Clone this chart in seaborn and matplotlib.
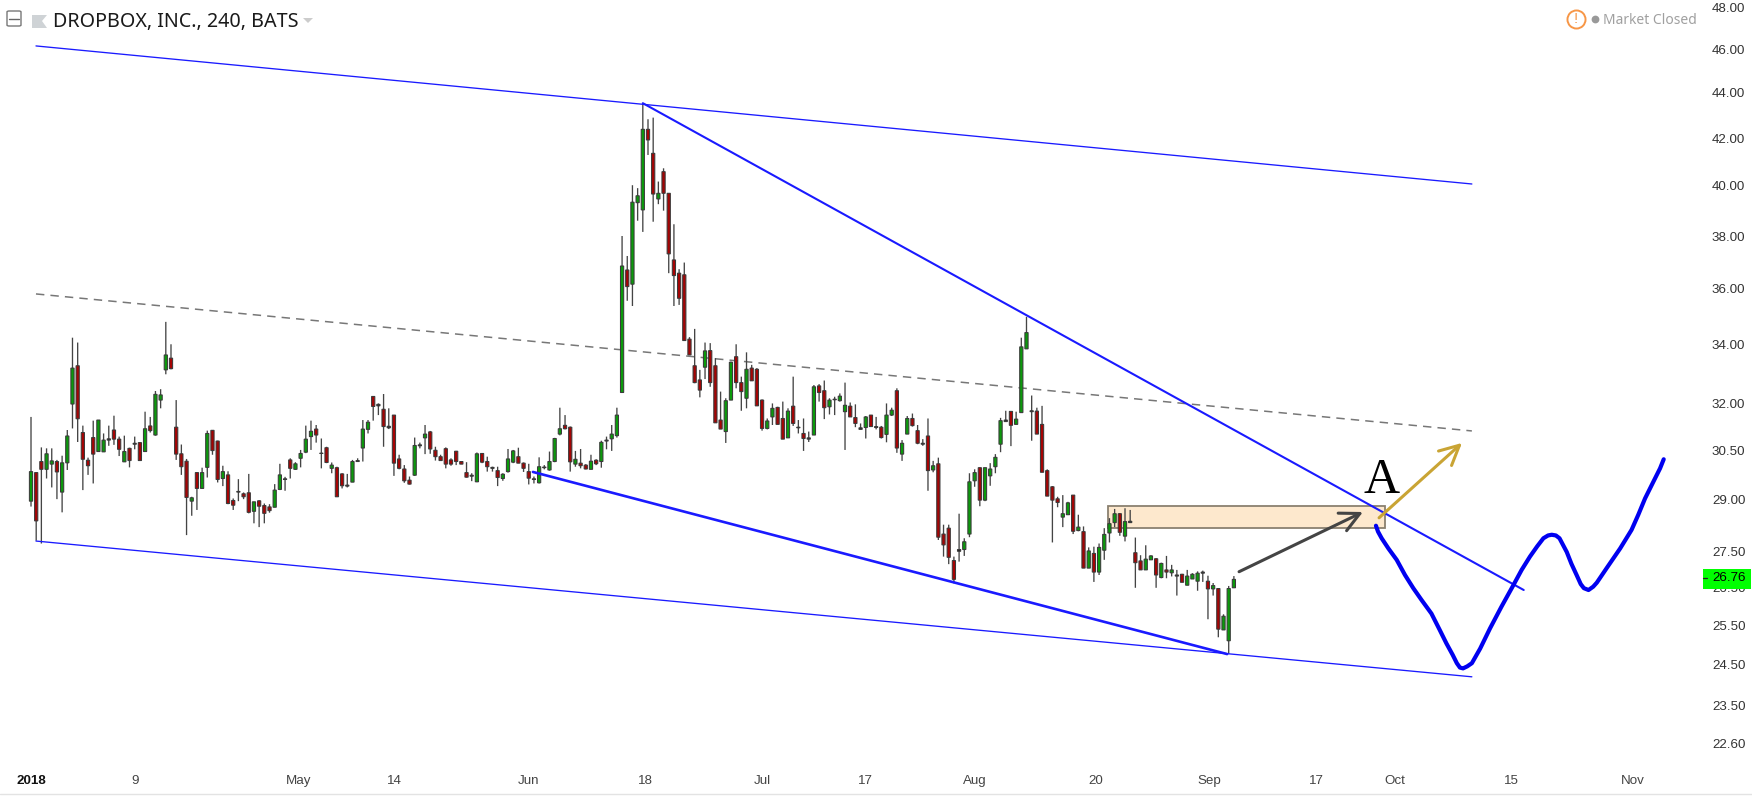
import pandas as pd
import seaborn as sns
import matplotlib.pyplot as plt
from matplotlib.patches import Rectangle, FancyBboxPatch, Polygon
from matplotlib.lines import Line2D
from matplotlib.ticker import FixedLocator, NullLocator, FixedFormatter

# candle direction per 4h bar, G up, R down, k doji
directions = ("GRRGGRGGGR" "RRRGGkRRGR" "kRGRGGGRRR" "RGRGGRRGRR" "kRRGRRRGGk"
              "RGGGGRkRGR" "RkGkGGRkRk" "RRRRGkGRRR" "RRRRRkGRRk" "RGGGRRRkGk"
              "GGGRRGRRGR" "GkGG"
              "GRGGGRRGRR" "RRRRRRGRRR" "GGRRGRRRGG" "RRGRkRk"
              "GRRGkGGRR" "kGRkRGGRGG" "RRkRGRRRRk" "GGGRGGGGkR" "GGGkRRRRR"
              "GGRGRGRGGGG" "RGkRRGGRGR" "GkRGGGkRGRGGG")

highs = [31.57, 29.82, 30.60, 30.57, 30.57, 30.21, 30.34, 31.15, 34.24, 34.07,
         31.29, 30.28, 31.45, 31.47, 31.04, 31.29, 31.61, 30.94, 30.97, 30.59,
         30.94, 30.76, 31.74, 31.57, 32.42, 32.48, 34.80, 34.01, 32.12, 30.69,
         30.24, 29.09, 29.83, 29.97, 31.13, 31.15, 30.81, 30.03, 29.86, 29.04,
         29.62, 29.22, 29.78, 28.94, 28.99, 28.89, 28.87, 29.47, 30.09, 29.69,
         30.26, 30.14, 30.52, 31.29, 31.45, 31.31, 30.88, 30.62, 30.13, 30.00,
         29.80, 29.78, 30.21, 30.26, 31.47, 31.47, 32.25, 32.01, 32.32, 31.85,
         31.63, 30.37, 30.05, 29.70, 30.91, 30.75, 31.31, 31.12, 30.62, 30.37,
         30.60, 30.26, 30.49, 30.16, 30.14, 29.80, 30.44, 30.42, 30.31, 30.00,
         30.00, 29.80, 30.55, 30.52, 30.59, 30.13, 30.09, 29.70, 30.29, 30.05,
         30.47, 30.90, 31.87, 31.63, 31.26, 30.49, 30.55, 30.08, 30.37, 30.23,
         30.81, 30.94, 31.31, 31.87,
         38.00, 37.23, 40.03, 39.91, 43.53, 42.83, 42.90, 40.18, 40.73, 39.70,
         38.46, 36.73, 36.98, 34.26, 34.55, 33.13, 34.07, 34.05, 33.53, 32.40,
         32.18, 33.41, 34.01, 32.90, 33.73, 33.30, 33.19, 32.14, 31.52, 32.01,
         31.90, 32.07, 31.85, 32.90, 31.47, 31.52, 31.10,
         32.62, 32.65, 32.77, 32.18, 32.23, 32.34, 32.70, 32.04, 31.98,
         31.36, 31.60, 31.63, 31.57, 31.28, 32.01, 31.87, 32.51, 30.83, 31.60,
         31.68, 31.31, 30.86, 31.52, 30.18, 30.28, 28.27, 28.27, 27.36, 28.59,
         27.88, 29.80, 29.92, 29.98, 29.97, 30.11, 30.39, 31.54, 31.77, 31.76,
         31.74, 34.24, 34.98, 32.27, 31.87, 31.93, 29.92, 29.41, 29.09,
         29.14, 28.94, 29.14, 28.56, 28.22, 27.62, 27.64, 27.73, 28.17, 28.46, 28.73,
         28.61, 28.75, 28.70, 27.90, 27.40, 27.68, 27.40, 27.32, 27.19, 27.38,
         27.13, 26.99, 26.88, 26.99, 26.90, 26.95, 26.97, 26.83, 26.63, 26.49, 25.79, 26.55, 26.82]

body_tops = [29.85, 29.82, 30.16, 30.40, 30.18, 30.16, 30.12, 30.96, 33.19, 33.27,
             31.07, 30.20, 30.91, 31.47, 30.83, 30.87, 31.15, 30.86, 30.47, 30.57,
             30.73, 30.75, 31.19, 31.28, 32.31, 32.29, 33.64, 33.53, 31.24, 30.40,
             30.17, 29.06, 29.82, 29.82, 31.04, 31.14, 30.80, 29.85, 29.75, 28.98,
             29.25, 29.18, 29.21, 28.94, 28.97, 28.83, 28.79, 29.29, 29.75, 29.63,
             30.21, 30.09, 30.41, 30.86, 31.11, 31.18, 30.42, 30.59, 30.05, 29.97,
             29.78, 29.44, 30.16, 30.19, 31.18, 31.40, 32.24, 31.98, 31.82, 31.27,
             31.63, 30.24, 29.93, 29.59, 30.66, 30.68, 31.02, 31.09, 30.51, 30.31,
             30.56, 30.21, 30.48, 30.16, 29.82, 29.74, 30.40, 30.41, 30.16, 29.98,
             29.88, 29.77, 30.24, 30.49, 30.31, 30.11, 29.85, 29.63, 30.00, 29.99,
             30.16, 30.88, 31.19, 31.30, 31.24, 30.23, 30.11, 30.05, 30.17, 30.20,
             30.76, 30.83, 31.02, 31.63,
             36.85, 36.70, 39.34, 39.60, 42.39, 42.39, 41.36, 39.70, 40.59, 39.70,
             37.08, 36.58, 36.52, 34.19, 33.27, 32.79, 33.78, 33.79, 33.27, 31.47,
             32.10, 33.39, 33.58, 32.70, 33.15, 33.19, 33.15, 32.12, 31.44, 31.85,
             31.88, 31.52, 31.76, 31.92, 31.24, 31.04, 30.90,
             32.56, 32.59, 32.43, 32.12, 32.15, 32.25, 31.95, 31.92, 31.55,
             31.22, 31.57, 31.63, 31.26, 31.24, 31.63, 31.79, 32.43, 30.73, 31.52,
             31.52, 31.13, 30.73, 30.96, 30.03, 30.09, 28.00, 28.17, 27.25, 27.56,
             27.78, 29.54, 29.82, 29.97, 29.97, 29.93, 30.29, 31.45, 31.47, 31.75,
             31.50, 33.92, 34.42, 31.77, 31.76, 31.33, 29.88, 29.39, 29.03,
             28.59, 28.91, 29.14, 28.20, 28.07, 27.52, 27.45, 27.62, 27.99, 28.30, 28.59,
             28.59, 28.36, 28.37, 27.47, 27.24, 27.29, 27.38, 27.30, 27.17, 26.99,
             26.99, 26.85, 26.87, 26.82, 26.87, 26.90, 26.93, 26.68, 26.56, 26.48, 25.74, 26.48, 26.73]

body_bottoms = [28.96, 28.38, 29.92, 29.92, 30.08, 29.84, 29.23, 30.12, 31.99, 31.51,
                30.23, 30.03, 30.39, 30.47, 30.46, 30.83, 30.86, 30.54, 30.15, 30.19,
                30.70, 30.19, 30.47, 31.13, 30.99, 32.12, 33.13, 33.17, 30.39, 30.00,
                29.07, 28.96, 29.34, 29.34, 29.98, 30.50, 29.61, 29.64, 28.89, 28.84,
                29.23, 29.09, 28.63, 28.66, 28.81, 28.60, 28.68, 28.78, 29.31, 29.61,
                29.95, 29.92, 30.26, 30.45, 30.94, 30.99, 30.41, 30.13, 29.95, 29.09,
                29.42, 29.41, 29.53, 30.16, 30.58, 31.17, 31.91, 31.93, 31.26, 31.22,
                30.11, 29.95, 29.57, 29.47, 29.74, 30.65, 30.90, 30.55, 30.31, 30.19,
                30.08, 30.08, 30.16, 30.08, 29.68, 29.71, 29.54, 30.14, 30.00, 29.95,
                29.67, 29.64, 29.85, 30.14, 30.11, 29.95, 29.65, 29.61, 29.51, 29.97,
                29.90, 30.16, 31.02, 31.19, 30.15, 30.08, 30.03, 29.93, 29.92, 30.09,
                30.16, 30.80, 30.87, 30.97,
                32.37, 36.08, 36.17, 39.32, 39.03, 41.93, 39.67, 39.47, 39.70, 37.31,
                36.49, 35.65, 34.14, 33.64, 32.70, 32.45, 33.22, 32.70, 31.38, 31.18,
                31.10, 32.12, 32.70, 32.40, 32.18, 32.76, 31.93, 31.20, 31.20, 31.57,
                31.33, 30.86, 30.90, 31.36, 31.22, 30.88, 30.86,
                30.99, 32.37, 31.87, 31.90, 32.13, 32.10, 31.74, 31.57, 31.36,
                31.17, 31.23, 31.26, 31.23, 30.91, 31.01, 31.63, 30.58, 30.39, 31.02,
                31.29, 30.73, 30.70, 29.88, 29.90, 27.91, 27.69, 27.34, 26.73, 27.51,
                27.56, 28.00, 29.57, 28.99, 28.99, 29.72, 30.00, 30.70, 31.42, 31.30,
                31.33, 31.71, 33.85, 31.74, 31.02, 29.83, 29.11, 28.99, 28.92,
                28.49, 28.56, 28.08, 28.10, 27.04, 27.04, 26.93, 26.93, 27.54, 28.03, 28.33,
                28.05, 27.94, 28.33, 27.19, 26.99, 26.99, 27.27, 26.85, 26.78, 26.93,
                26.91, 26.82, 26.65, 26.57, 26.74, 26.68, 26.90, 26.47, 26.47, 25.40, 25.38, 25.10, 26.50]

lows = [28.80, 27.81, 27.73, 29.64, 29.37, 29.02, 28.63, 29.90, 31.20, 30.77,
        29.29, 29.75, 29.49, 30.47, 30.46, 30.65, 30.68, 30.33, 30.15, 29.98,
        30.54, 30.18, 30.46, 31.07, 30.97, 31.85, 32.98, 33.15, 30.21, 29.75,
        27.97, 28.53, 28.70, 29.34, 29.67, 30.37, 29.52, 29.41, 28.87, 28.70,
        28.96, 29.02, 28.60, 28.31, 28.20, 28.31, 28.62, 28.78, 29.29, 29.27,
        29.64, 29.90, 29.98, 30.42, 30.52, 30.75, 29.95, 30.11, 29.80, 29.09,
        29.34, 29.37, 29.53, 30.16, 30.16, 31.04, 31.45, 31.63, 30.62, 31.18,
        29.72, 29.92, 29.51, 29.46, 29.72, 30.57, 30.39, 30.40, 30.19, 30.18,
        29.95, 30.03, 30.05, 30.08, 29.67, 29.56, 29.53, 30.11, 29.85, 29.85,
        29.41, 29.57, 29.82, 30.11, 30.11, 29.84, 29.46, 29.49, 29.49, 29.92,
        29.88, 30.14, 30.98, 31.17, 29.85, 30.00, 29.95, 29.92, 29.92, 30.05,
        29.97, 30.54, 30.49, 30.91,
        32.37, 35.56, 35.37, 38.60, 38.16, 41.29, 38.56, 39.26, 39.00, 36.58,
        35.37, 35.41, 34.14, 33.64, 32.68, 32.21, 32.82, 32.56, 31.38, 31.18,
        30.74, 32.12, 32.51, 31.77, 31.85, 32.76, 31.93, 31.13, 31.17, 31.31,
        31.33, 30.86, 30.90, 31.28, 31.04, 30.49, 30.77,
        30.99, 32.07, 31.50, 31.65, 31.63, 32.07, 30.52, 31.57, 31.24,
        31.17, 30.88, 31.26, 31.17, 30.88, 30.76, 31.60, 30.43, 30.18, 31.02,
        31.26, 30.70, 30.65, 29.27, 29.83, 27.83, 27.36, 27.15, 26.62, 27.22,
        27.38, 27.91, 29.39, 28.81, 28.96, 29.42, 29.80, 30.45, 31.42, 30.64,
        31.33, 31.71, 33.85, 30.81, 31.02, 29.83, 29.11, 27.76, 28.78,
        28.20, 28.56, 28.00, 28.08, 27.04, 27.04, 26.66, 26.85, 27.27, 27.76, 28.20,
        27.95, 27.79, 28.33, 26.50, 26.99, 26.99, 27.27, 26.50, 26.76, 26.76,
        26.81, 26.29, 26.65, 26.57, 26.74, 26.42, 26.66, 25.66, 26.29, 25.19, 25.38, 24.77, 26.50]

# hand drawn lines, x in bars, y in price
upper_x, upper_y = [0.96, 277.9], [46.17, 40.08]
lower_x, lower_y = [0.96, 277.9], [27.80, 24.19]
mid_x, mid_y = [0.96, 277.9], [35.81, 31.12]
wedge_top_x, wedge_top_y = [118.0, 287.9], [43.54, 26.44]
wedge_low_x, wedge_low_y = [96.8, 230.7], [29.84, 24.76]
forecast_x = [259.4, 259.8, 260.5, 261.8, 263.4, 265.0, 266.6, 268.2, 270.1, 271.7, 273.0, 274.2,
              275.0, 275.6, 276.2, 277.0, 277.9, 279.5, 281.4, 283.6, 285.9, 287.5, 289.1, 290.5,
              291.7, 292.6, 293.3, 294.1, 294.8, 296.2, 297.1, 298.1, 298.9, 299.5, 300.4, 301.3,
              302.0, 303.9, 306.5, 308.7, 310.0, 311.3, 312.9, 314.2, 314.9]
forecast_y = [28.24, 28.07, 27.88, 27.59, 27.27, 26.85, 26.49, 26.17, 25.81, 25.38, 25.03, 24.74,
              24.53, 24.42, 24.40, 24.45, 24.53, 24.90, 25.42, 25.99, 26.57, 26.99, 27.36, 27.65,
              27.88, 27.96, 27.98, 27.96, 27.88, 27.49, 27.16, 26.85, 26.60, 26.49, 26.44, 26.53,
              26.64, 27.04, 27.59, 28.12, 28.56, 29.04, 29.54, 29.95, 30.23]

price_ticks = [48, 46, 44, 42, 40, 38, 36, 34, 32, 30.5, 29, 27.5, 26.5, 25.5, 24.5, 23.5, 22.6]
date_ticks = [0, 20, 51.7, 70, 95.9, 118.6, 141, 161, 182, 205.4, 227.2, 248, 263, 285.5, 309]
date_labels = ['2018', '9', 'May', '14', 'Jun', '18', 'Jul', '17', 'Aug', '20', 'Sep', '17', 'Oct', '15', 'Nov']

W, H = 1752, 799
BLUE = '#1a1aff'
colors = {'G': '#0b9a0b', 'R': '#a50404', 'k': '#222222'}

sns.set_theme(style='white')
plt.rcParams['font.family'] = ['Liberation Sans', 'DejaVu Sans']

candles = pd.DataFrame({'high': highs, 'top': body_tops, 'bottom': body_bottoms,
                        'low': lows, 'dir': list(directions)})
candles['bar'] = range(len(candles))

fig = plt.figure(figsize=(W / 100, H / 100), dpi=100, facecolor='white')
ax = fig.add_axes([0, 1 - 765 / H, 1700 / W, 765 / H])
ax.set_yscale('log')
ax.set_xlim(-5.98, 321.9)
ax.set_ylim(22.10, 48.395)

ax.add_patch(Rectangle((207.7, 28.18), 53.4, 28.83 - 28.18, facecolor='#fde8cd',
                       edgecolor='#8a8070', lw=1.3, zorder=1))

wicks = ax.vlines(candles['bar'], candles['low'], candles['high'], color='#444444', lw=0.95, zorder=3)
wicks.set_snap(False)
bodies = ax.bar(candles['bar'], candles['top'] - candles['bottom'], bottom=candles['bottom'], width=0.62,
                color=[colors[d] for d in candles['dir']], edgecolor='#3a3a3a', lw=0.75, zorder=4)
for body in bodies:
    body.set_snap(False)


def trend(xs, ys, **kw):
    sns.lineplot(x=xs, y=ys, ax=ax, sort=False, estimator=None, legend=False, **kw)


trend(upper_x, upper_y, color=BLUE, lw=0.95, zorder=5)
trend(lower_x, lower_y, color=BLUE, lw=0.95, zorder=5)
trend(mid_x, mid_y, color='#777777', lw=1.1, zorder=2, linestyle=(0, (5.5, 4)))
trend(wedge_top_x, wedge_top_y, color=BLUE, lw=1.5, zorder=5)
trend(wedge_low_x, wedge_low_y, color=BLUE, lw=1.9, zorder=5)
trend(forecast_x, forecast_y, color='#0000f0', lw=3.0, zorder=6, solid_joinstyle='round')

ax.annotate('', xy=(256.9, 28.64), xytext=(233, 26.94), zorder=6,
            arrowprops=dict(arrowstyle='->,head_length=1.0,head_width=0.5', mutation_scale=14,
                            color='#444444', lw=2.2, shrinkA=0, shrinkB=0))
ax.annotate('', xy=(276, 30.74), xytext=(260, 28.47), zorder=6,
            arrowprops=dict(arrowstyle='->,head_length=1.0,head_width=0.5', mutation_scale=14,
                            color='#c9a434', lw=2.2, shrinkA=0, shrinkB=0))
ax.text(260.4, 29.56, 'A', family='Liberation Serif', fontsize=36, color='black',
        ha='center', va='center', zorder=6)

ax.yaxis.tick_right()
ax.yaxis.set_major_locator(FixedLocator(price_ticks))
ax.yaxis.set_minor_locator(NullLocator())
ax.yaxis.set_major_formatter(FixedFormatter(['%.2f' % p for p in price_ticks]))
ax.yaxis.set_minor_formatter(FixedFormatter([]))
ax.set_xticks(date_ticks)
ax.set_xticklabels(date_labels)
ax.tick_params(axis='y', length=0, pad=8.6, labelsize=9.6, labelcolor='#333333')
ax.tick_params(axis='x', length=0, pad=7.5, labelsize=9.6, labelcolor='#444444')
ax.get_xticklabels()[0].set_fontweight('bold')
ax.get_xticklabels()[0].set_color('#111111')
ax.set_xlabel('')
ax.set_ylabel('')
sns.despine(ax=ax, left=True, bottom=True, right=True, top=True)

# last price tag
last = body_tops[-1] + 0.03
ytrans = ax.get_yaxis_transform()
ax.add_patch(Rectangle((1703 / 1700, last * 0.9895), 48 / 1700, last * 0.0205, transform=ytrans,
                       facecolor='#00ff00', edgecolor='none', clip_on=False, zorder=9))
ax.text(1712 / 1700, last, '%.2f' % last, transform=ytrans, fontsize=9.6, color='black',
        va='center', ha='left', clip_on=False, zorder=10)
ax.plot([1703.5 / 1700, 1707 / 1700], [last, last], transform=ytrans, color='#222222', lw=0.9,
        clip_on=False, zorder=10)


def fx(px):
    return px / W


def fy(px):
    return 1 - px / H


# header icons and text
fig.add_artist(FancyBboxPatch((fx(7), fy(26)), 14 / W, 15 / H, boxstyle='round,pad=0,rounding_size=0.0012',
                              transform=fig.transFigure, facecolor='white', edgecolor='#777777', lw=1))
fig.add_artist(Line2D([fx(9), fx(19)], [fy(18.5), fy(18.5)], color='#666666', lw=1))
fig.add_artist(Polygon([(fx(32), fy(15)), (fx(47), fy(15)), (fx(42), fy(21)), (fx(47), fy(28)), (fx(32), fy(28))],
                       transform=fig.transFigure, facecolor='#cfd3d6', edgecolor='none'))
fig.add_artist(Polygon([(fx(303), fy(18)), (fx(313), fy(18)), (fx(308), fy(23))],
                       transform=fig.transFigure, facecolor='#cccccc', edgecolor='none'))
fig.text(fx(53), fy(21.5), 'DROPBOX, INC., 240, BATS', family='Noto Sans', fontsize=14.2,
         color='#1a1a1a', va='center', ha='left')

fig.add_artist(Line2D([fx(1576)], [fy(19)], marker='o', ms=13, mfc='white', mec='#f79646', mew=1.4))
fig.text(fx(1576), fy(19), '!', fontsize=11, color='#f79646', ha='center', va='center')
fig.add_artist(Line2D([fx(1595)], [fy(19)], marker='o', ms=5.6, mfc='#999999', mec='none'))
fig.text(fx(1603), fy(20), 'Market Closed', family='Noto Sans', fontsize=10, color='#a0a0a0',
         va='center', ha='left')

fig.add_artist(Line2D([0, 1], [fy(794), fy(794)], color='#e3e3e3', lw=1))

plt.savefig('out.png', dpi=100)
